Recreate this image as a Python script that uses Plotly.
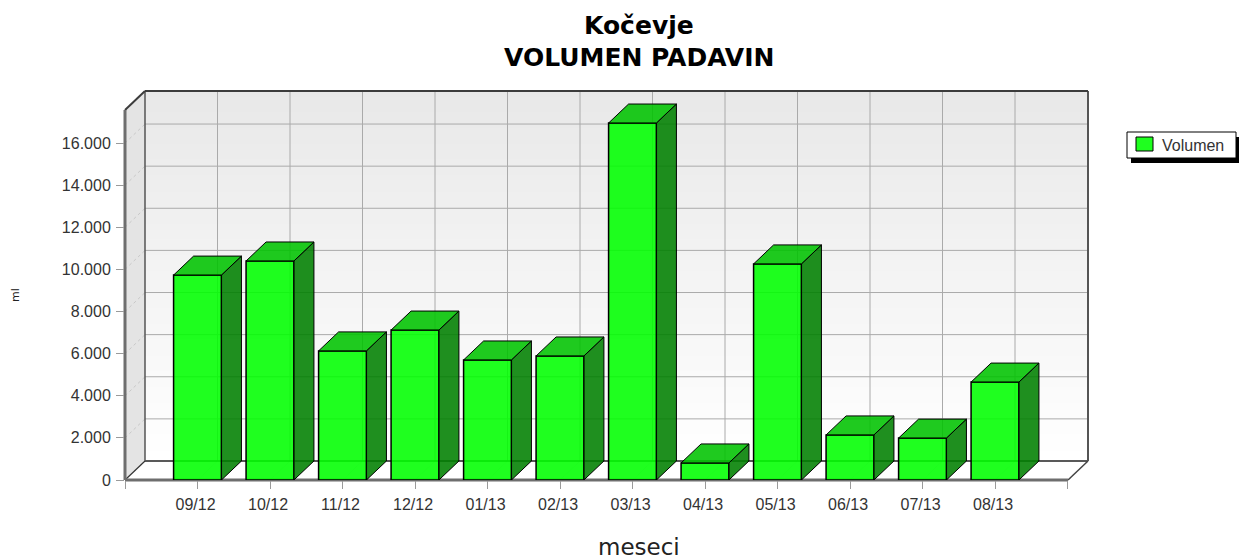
import plotly.graph_objects as go

months = ["09/12","10/12","11/12","12/12","01/13","02/13","03/13","04/13","05/13","06/13","07/13","08/13"]
volumen = [9730,10400,6130,7120,5700,5890,16950,810,10260,2140,1990,4650]
y_ticks = [0,2000,4000,6000,8000,10000,12000,14000,16000]
y_tick_labels = ["0","2.000","4.000","6.000","8.000","10.000","12.000","14.000","16.000"]
series_name = "Volumen"

# layout in pixels of the pseudo-3D frame
L, R, T, B = 125, 1088, 91, 480
W, H = 1239, 560
SLOT = 72.5
PX_PER_UNIT = 21.06 / 1000
DX = 20 / SLOT                 # depth in x units
DY = 19 / PX_PER_UNIT          # depth in y units
XMAX = (R - L) / SLOT
YMAX = (B - T) / PX_PER_UNIT
N = len(months)
HALF = 0.33
PW, PH = R - L, B - T
fdx, fdy = DX / XMAX, DY / YMAX

def px(x):
    return (x - L) / PW

def py(y):
    return (B - y) / PH

shapes = []
def below(**kw):
    shapes.append(dict(layer="below", xref="paper", yref="paper", **kw))

def segment(x0, y0, x1, y1, color, width, dash="solid"):
    below(type="line", x0=x0, y0=y0, x1=x1, y1=y1, line=dict(color=color, width=width, dash=dash))

# gradient back wall
BANDS = 70
for k in range(BANDS):
    f = k / BANDS
    c = round(255 - (255 - 232) * f)
    below(type="rect", x0=fdx, x1=1, y0=fdy + (1 - fdy) * f,
          y1=min(1, fdy + (1 - fdy) * (f + 1.2 / BANDS)),
          fillcolor=f"rgb({c},{c},{c})", line_width=0)
# left wall
below(type="path", path=f"M0,0 L{fdx},{fdy} L{fdx},1 L0,{1-fdy} Z", fillcolor="#e4e4e4", line_width=0)
# floor
below(type="path", path=f"M0,0 L{fdx},{fdy} L1,{fdy} L{1-fdx},0 Z", fillcolor="#ffffff", line_width=0)

GRID = "#aaaaaa"
for v in y_ticks[1:]:
    fy = v / YMAX
    segment(fdx, fy + fdy, 1, fy + fdy, GRID, 1)
    segment(0, fy, fdx, fy + fdy, "#c8c8c8", 1, "dot")
for i in range(1, N + 1):
    fx = i / XMAX
    segment(fx + fdx, fdy, fx + fdx, 1, GRID, 1)
    segment(fx, 0, fx + fdx, fdy, "#ececec", 1)

# frame lines
segment(fdx, fdy, 1, fdy, "#222222", 1.5)          # floor back edge
segment(0, 0, fdx, fdy, "#333333", 1.2)            # floor left edge
segment(1 - fdx, 0, 1, fdy, "#444444", 1.5)        # floor right edge
segment(fdx, fdy, fdx, 1, "#555555", 1.5)          # inner corner
segment(1, fdy, 1, 1, "#555555", 2)                # back wall right
segment(fdx, 1, 1, 1, "#3c3c3c", 2)                # back wall top
segment(0, 1 - fdy, fdx, 1, "#3c3c3c", 2)          # left wall top
segment(0, 0, 0, 1 - fdy, "#6e6e6e", 3)            # front y axis
segment(0, 0, 1 - fdx, 0, "#6e6e6e", 3)            # front x axis

# legend: shadow, box, swatch
shapes.append(dict(type="rect", layer="above", xref="paper", yref="paper",
                   x0=px(1131), x1=px(1239), y0=py(163), y1=py(137),
                   fillcolor="#000000", line_width=0))
shapes.append(dict(type="rect", layer="above", xref="paper", yref="paper",
                   x0=px(1127), x1=px(1236), y0=py(158), y1=py(132),
                   fillcolor="#ffffff", line=dict(color="#000000", width=1)))
shapes.append(dict(type="rect", layer="above", xref="paper", yref="paper",
                   x0=px(1136), x1=px(1153), y0=py(151), y1=py(137),
                   fillcolor="#1fff1f", line=dict(color="#000000", width=1)))

fig = go.Figure()
xs = list(range(1, N + 1))
fig.add_trace(go.Bar(x=xs, y=volumen, width=2 * HALF, name=series_name, showlegend=False, cliponaxis=False,
                     marker=dict(color="rgba(0,255,0,0.88)", line=dict(color="#000000", width=1.5))))

def poly(pts_fn):
    ax, ay = [], []
    for x, v in zip(xs, volumen):
        a, b = pts_fn(x, v)
        ax += a + [None]
        ay += b + [None]
    return ax, ay

# side faces
sx, sy = poly(lambda x, v: ([x + HALF, x + HALF + DX, x + HALF + DX, x + HALF, x + HALF],
                            [0, DY, v + DY, v, 0]))
fig.add_trace(go.Scatter(x=sx, y=sy, mode="lines", fill="toself",
                         fillcolor="rgba(0,128,0,0.88)", line=dict(color="#000000", width=1),
                         showlegend=False, hoverinfo="skip"))
# top faces
tx, ty = poly(lambda x, v: ([x - HALF, x - HALF + DX, x + HALF + DX, x + HALF, x - HALF],
                            [v, v + DY, v + DY, v, v]))
fig.add_trace(go.Scatter(x=tx, y=ty, mode="lines", fill="toself",
                         fillcolor="rgba(0,195,0,0.88)", line=dict(color="#000000", width=1),
                         showlegend=False, hoverinfo="skip"))

TICKFONT = dict(family="Liberation Sans", size=16, color="#333333")
annotations = [
    dict(text="meseci", xref="paper", yref="paper", x=px(639), y=py(547), xanchor="center", yanchor="middle",
         showarrow=False, font=dict(family="DejaVu Sans", size=23, color="#222222")),
    dict(text="ml", xref="paper", yref="paper", x=px(15), y=py(295), xanchor="center", yanchor="middle",
         textangle=-90, showarrow=False, font=dict(family="DejaVu Sans", size=11, color="#222222")),
    dict(text=series_name, xref="paper", yref="paper", x=px(1160), y=py(145.5), xanchor="left", yanchor="middle",
         showarrow=False, font=dict(family="Liberation Sans", size=16, color="#333333")),
    dict(text="Kočevje", xref="paper", yref="paper", x=px(639), y=py(25), xanchor="center", yanchor="middle",
         showarrow=False, font=dict(family="DejaVu Sans", size=25, color="#000000", weight="bold")),
    dict(text="VOLUMEN PADAVIN", xref="paper", yref="paper", x=px(639), y=py(58), xanchor="center", yanchor="middle",
         showarrow=False, font=dict(family="DejaVu Sans", size=25, color="#000000", weight="bold")),
]

fig.update_layout(
    width=W, height=H, autosize=False,
    margin=dict(l=L, r=W - R, t=T, b=H - B),
    paper_bgcolor="#ffffff", plot_bgcolor="rgba(0,0,0,0)",
    shapes=shapes, annotations=annotations, barmode="overlay", showlegend=False,
    xaxis=dict(range=[0, XMAX], tickmode="array", tickvals=list(range(0, N + 2)),
               ticktext=[""] + months + [""], showgrid=False, zeroline=False, showline=False,
               ticks="outside", ticklen=8, tickcolor="#9a9a9a", tickwidth=1, tickfont=TICKFONT,
               ticklabelshift=-2, ticklabelstandoff=2),
    yaxis=dict(range=[0, YMAX], tickmode="array", tickvals=y_ticks, ticktext=y_tick_labels,
               showgrid=False, zeroline=False, showline=False,
               ticks="outside", ticklen=8, tickcolor="#9a9a9a", tickwidth=1, tickfont=TICKFONT,
               ticklabelstandoff=2),
)
fig.write_html("out.html", config={"displayModeBar": False},
               post_script="document.body.style.margin='0';")
